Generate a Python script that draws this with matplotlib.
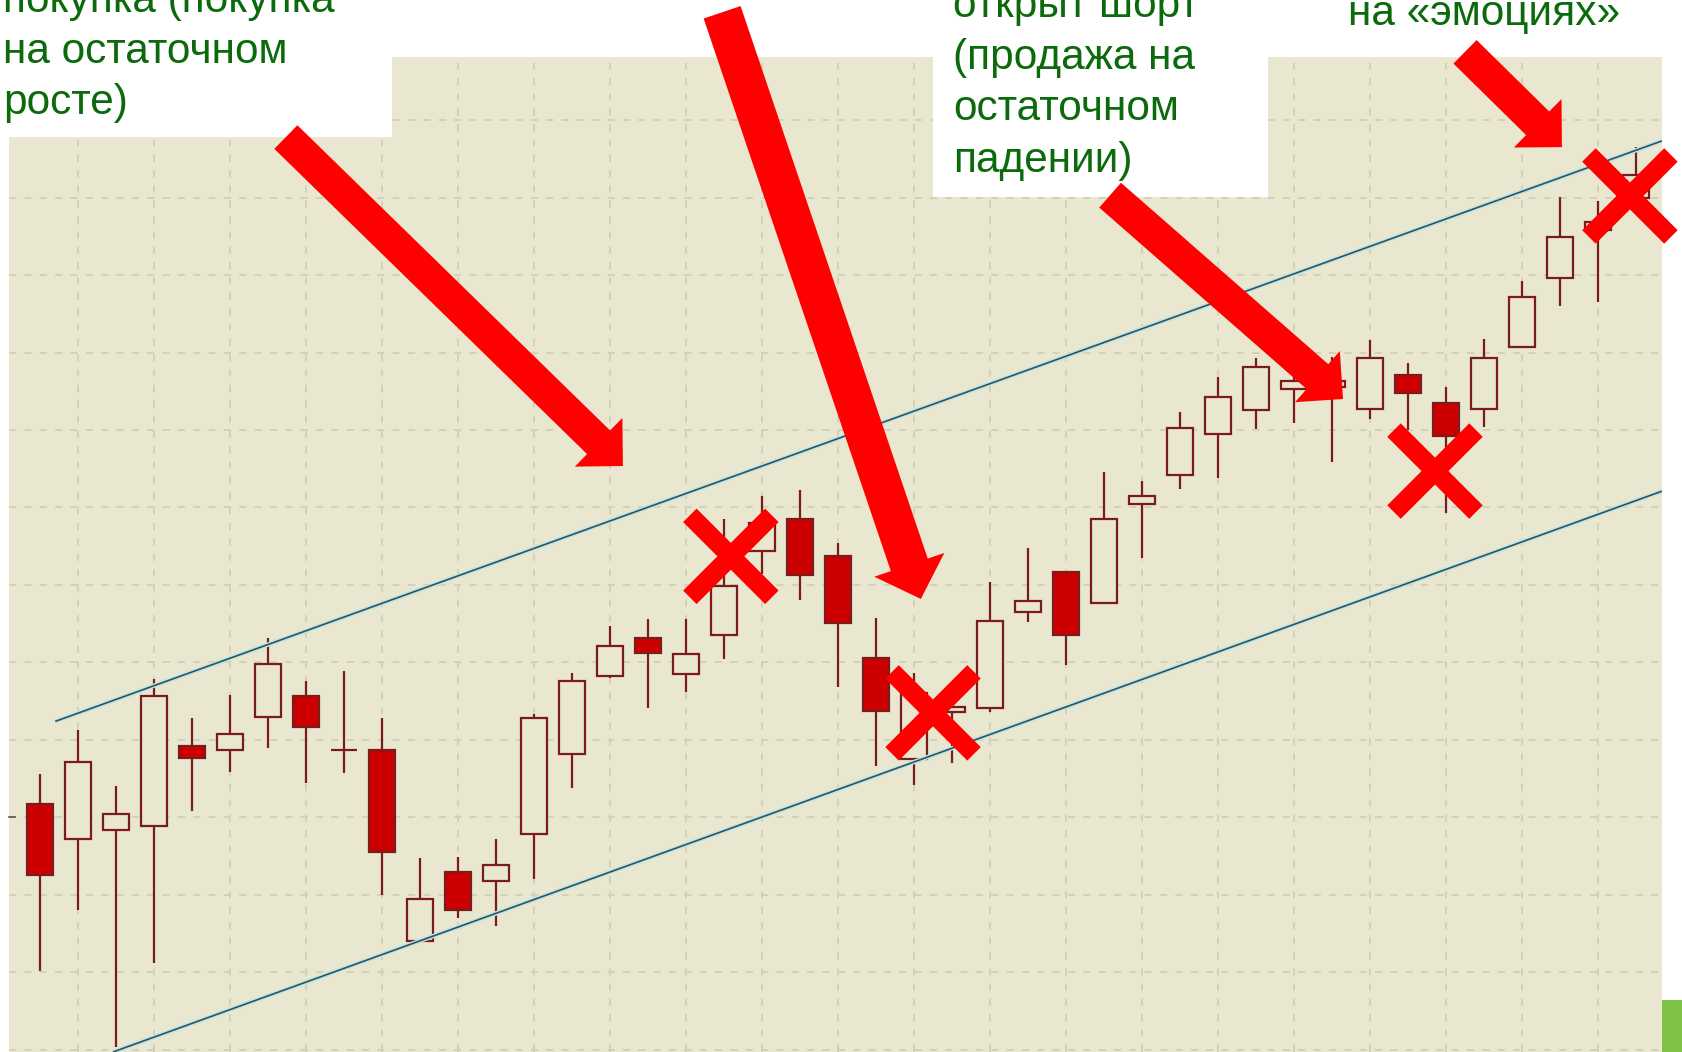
import matplotlib
matplotlib.use("Agg")
import matplotlib.pyplot as plt
from matplotlib.patches import Rectangle, FancyArrow
import numpy as np

# ---- price data (one candle per bar) ----
opens = [31.7, 27.2, 28.4, 28.9, 39.2, 38.7, 43.0, 45.7, 38.7, 38.7,
         14.1, 23.0, 21.8, 27.9, 38.2, 48.3, 53.2, 48.5, 53.5, 64.4,
         68.5, 63.7, 50.6, 37.5, 43.6, 44.1, 56.5, 61.7, 57.7, 70.5,
         74.2, 79.5, 82.6, 85.3, 85.5, 82.7, 87.1, 83.5, 82.7, 90.7,
         99.6, 105.8, 109.9]
highs = [35.6, 41.3, 34.1, 47.9, 42.8, 45.8, 53.2, 47.6, 48.9, 42.8,
         24.8, 24.9, 27.2, 43.4, 48.6, 54.7, 55.6, 55.6, 68.5, 71.5,
         72.3, 65.4, 55.7, 48.6, 45.2, 60.4, 64.8, 61.7, 74.6, 73.4,
         82.3, 86.8, 89.3, 87.7, 89.4, 91.6, 88.6, 85.5, 91.7, 99.2,
         110.1, 109.6, 116.5]
lows = [10.2, 18.1, 0.4, 11.2, 30.8, 35.9, 39.0, 34.5, 35.7, 20.0,
        13.9, 17.0, 16.0, 22.1, 33.8, 48.0, 44.1, 46.2, 50.5, 61.4,
        58.1, 46.8, 36.6, 34.2, 37.0, 43.6, 55.2, 49.7, 57.7, 63.5,
        72.4, 73.8, 80.1, 80.9, 75.9, 81.4, 80.0, 69.3, 80.4, 90.7,
        96.0, 96.5, 109.9]
closes = [22.6, 37.2, 30.5, 45.7, 37.7, 40.8, 49.8, 41.7, 38.7, 25.5,
          19.5, 18.1, 23.9, 42.8, 47.6, 52.1, 51.2, 51.1, 59.9, 68.0,
          61.3, 55.1, 43.7, 46.1, 44.3, 55.4, 57.9, 53.5, 68.5, 71.5,
          80.3, 84.3, 88.1, 86.3, 86.3, 89.3, 84.8, 79.2, 89.3, 97.2,
          104.9, 106.8, 112.9]

# ---- trend channel (bar index, price) ----
upper_x = [0.4, 42.68]
upper_y = [42.4, 117.3]
lower_x = [1.92, 42.68]
lower_y = [-0.26, 72.1]

# ---- annotations: arrows (tail -> tip) and crosses, in bar/price units ----
arrow_tails = [(6.47, 117.8), (17.95, 133.9), (28.16, 110.3), (37.5, 128.8)]
arrow_tips = [(15.34, 75.35), (23.18, 58.2), (34.29, 84.0), (40.05, 116.5)]
arrow_widths = [33, 39, 33, 33]
arrow_head_widths = [68, 74, 68, 68]
arrow_head_lengths = [34, 36, 34, 34]
cross_centers = [(18.18, 63.7), (23.5, 43.5), (36.71, 74.7), (41.84, 110.2)]

# ---- captions ----
caption_left = ["покупка (покупка", "на остаточном", "росте)"]
caption_mid = ["открыт шорт", "(продажа на", "остаточном", "падении)"]
caption_right = ["на «эмоциях»"]

W, H = 1682, 1052
BG = "#e9e7d0"
GRID = "#d2cfb7"
EDGE = "#7a1c1c"
FILL = "#cc0000"
GREEN_TXT = "#0b6a0b"
ARROW_RED = "#ff0000"

fig = plt.figure(figsize=(W / 100, H / 100), dpi=100)
fig.patch.set_facecolor("white")

ax = fig.add_axes([9 / W, 0, 1653 / W, 995 / H])
ax.set_facecolor(BG)
ax.set_xlim(-0.816, 42.684)
ax.set_ylim(-0.26, 128.13)
for s in ax.spines.values():
    s.set_visible(False)
ax.set_xticks(np.arange(1, 43, 2))
ax.set_yticks(np.arange(0, 130, 10))
ax.tick_params(length=0, labelleft=False, labelbottom=False)
ax.grid(True, color=GRID, linestyle=(0, (4, 4.5)), linewidth=1.3)
ax.set_axisbelow(True)

# small tick on the price scale
ax.plot([-0.816, -0.66], [30, 30], color="#555555", lw=1.2, clip_on=False, zorder=2)

idx = np.arange(len(opens))
o = np.array(opens)
c = np.array(closes)
hi = np.array(highs)
lo = np.array(lows)
up = c >= o

ax.vlines(idx, lo, hi, color=EDGE, linewidth=1.6, zorder=2)
body_w = 0.66
ax.bar(idx[up], (c - o)[up], bottom=o[up], width=body_w, facecolor=BG,
       edgecolor=EDGE, linewidth=1.6, zorder=3)
ax.bar(idx[~up], (o - c)[~up], bottom=c[~up], width=body_w, facecolor=FILL,
       edgecolor=EDGE, linewidth=1.6, zorder=3)

# channel lines
for xs, ys in ((upper_x, upper_y), (lower_x, lower_y)):
    ax.plot(xs, ys, color="#c3e3e0", lw=3.2, zorder=4, solid_capstyle="butt")
    ax.plot(xs, ys, color="#2a5565", lw=1.2, zorder=4.5, solid_capstyle="butt")

# overlay in pixel units for captions and drawn annotations
ov = fig.add_axes([0, 0, 1, 1], zorder=5)
ov.set_xlim(0, W)
ov.set_ylim(H, 0)
ov.axis("off")
ov.patch.set_alpha(0)


def to_px(pt):
    return ov.transData.inverted().transform(ax.transData.transform(pt))


# caption boxes
ov.add_patch(Rectangle((0, 0), 392, 137, facecolor="white", edgecolor="none", zorder=1))
ov.add_patch(Rectangle((933, 0), 335, 197, facecolor="white", edgecolor="none", zorder=1))

font = dict(family=["Liberation Sans", "DejaVu Sans"], size=30.5, color=GREEN_TXT)
for k, line in enumerate(caption_left):
    ov.text(3, 12 + 51 * k, line, va="baseline", ha="left", zorder=2, **font)
for k, line in enumerate(caption_mid):
    ov.text(953, 17 + 51.7 * k, line, va="baseline", ha="left", zorder=2, **font)
for k, line in enumerate(caption_right):
    ov.text(1348, 25 + 51 * k, line, va="baseline", ha="left", zorder=2, **font)

# arrows
for tail, tip, w, hw, hl in zip(arrow_tails, arrow_tips, arrow_widths,
                                arrow_head_widths, arrow_head_lengths):
    (x0, y0), (x1, y1) = to_px(tail), to_px(tip)
    ov.add_patch(FancyArrow(x0, y0, x1 - x0, y1 - y0, width=w, head_width=hw,
                            head_length=hl, length_includes_head=True,
                            facecolor=ARROW_RED, edgecolor="none", zorder=3))

# crosses
half = 41
for cc in cross_centers:
    cx, cy = to_px(cc)
    ov.plot([cx - half, cx + half], [cy - half, cy + half], color=ARROW_RED,
            lw=13.7, solid_capstyle="butt", zorder=3)
    ov.plot([cx - half, cx + half], [cy + half, cy - half], color=ARROW_RED,
            lw=13.7, solid_capstyle="butt", zorder=3)

# slide accent
ov.add_patch(Rectangle((1662, 1000), 20, 52, facecolor="#7dc242", edgecolor="none", zorder=1))

fig.savefig("out.png", dpi=100, facecolor="white")
